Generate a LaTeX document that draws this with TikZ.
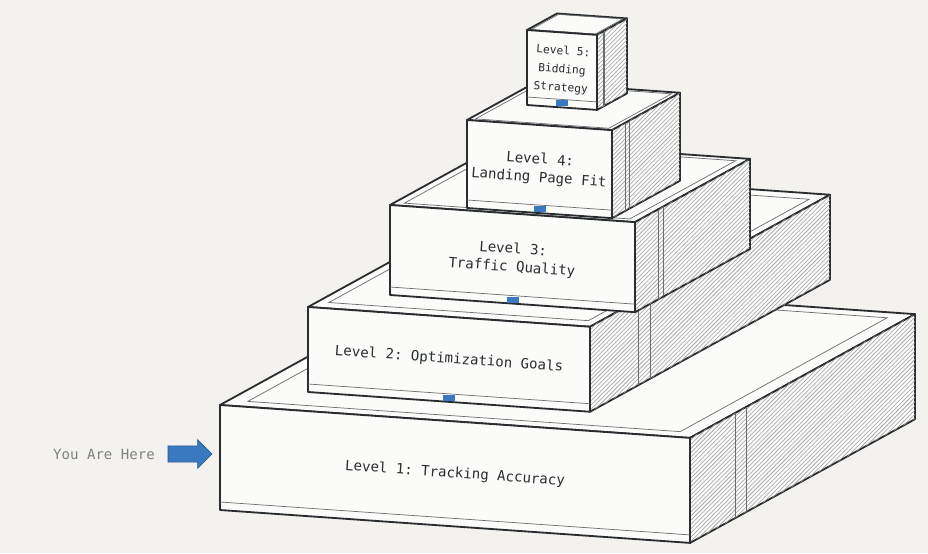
\documentclass[tikz,border=0pt]{standalone}
\usepackage{fontspec}
\setmonofont{DejaVu Sans Mono}
\usetikzlibrary{calc}
\usetikzlibrary{positioning}
\usetikzlibrary{patterns}
\usetikzlibrary{shapes.arrows}

\definecolor{paper}{HTML}{F3F2EE}
\definecolor{ink}{HTML}{2A2D30}
\definecolor{herblue}{HTML}{3A78C0}

% one level of the pyramid: name, x, y (front bottom left), width, depth, height, text
\newcommand{\levelbox}[7]{%
	\coordinate (#1-fbl) at (#2,#3);
	\coordinate (#1-fbr) at ($(#1-fbl)+(#4,0.07*#4)$);
	\coordinate (#1-bbr) at ($(#1-fbr)+(#5,-0.55*#5)$);
	\coordinate (#1-bbl) at ($(#1-fbl)+(#5,-0.55*#5)$);
	\coordinate (#1-ftl) at ($(#1-fbl)+(0,-#6)$);
	\coordinate (#1-ftr) at ($(#1-fbr)+(0,-#6)$);
	\coordinate (#1-btr) at ($(#1-bbr)+(0,-#6)$);
	\coordinate (#1-btl) at ($(#1-bbl)+(0,-#6)$);
	\coordinate (#1-mid) at ($(#1-ftl)!0.5!(#1-btr)$);
	\draw [face] (#1-ftl) -- (#1-ftr) -- (#1-btr) -- (#1-btl) -- cycle;
	\draw [groove] ($(#1-ftl)!0.08!(#1-mid)$) -- ($(#1-ftr)!0.08!(#1-mid)$)
		-- ($(#1-btr)!0.08!(#1-mid)$) -- ($(#1-btl)!0.08!(#1-mid)$) -- cycle;
	\draw [face] (#1-fbr) -- (#1-bbr) -- (#1-btr) -- (#1-ftr) -- cycle;
	\fill [hatch] (#1-fbr) -- (#1-bbr) -- (#1-btr) -- (#1-ftr) -- cycle;
	\draw [groove] ($(#1-fbr)!0.2!(#1-bbr)$) -- ($(#1-ftr)!0.2!(#1-btr)$);
	\draw [groove] ($(#1-fbr)!0.25!(#1-bbr)$) -- ($(#1-ftr)!0.25!(#1-btr)$);
	\draw [face] (#1-fbl) -- (#1-fbr) -- (#1-ftr) -- (#1-ftl) -- cycle;
	\draw [groove] ($(#1-fbl)+(0,-8)$) -- ($(#1-fbr)+(0,-8)$);
	\node [label] (#1) at ($(#1-ftl)!0.5!(#1-fbr)$) {#7};
}
% blue joint under an upper level
\newcommand{\joint}[1]{%
	\fill [herblue] ($(#1-fbl)!0.5!(#1-fbr)+(-6,-1)$) rectangle +(12,-6);
}

\begin{document}
\begin{tikzpicture}[
		x=0.025cm,y=-0.025cm,
		face/.style={draw=ink,fill=white!70!paper,line width=1.3pt,line join=round},
		hatch/.style={pattern=north east lines,pattern color=ink!45},
		groove/.style={draw=ink!70,line width=0.5pt},
		label/.style={font=\ttfamily\fontsize{10}{13}\selectfont,text=ink,align=center,rotate=-4}
	]
		\fill [paper] (0,0) rectangle (928,553);
		\useasboundingbox (0,0) rectangle (928,553);

		\levelbox{level1}{220}{510}{470}{225}{105}{Level 1: Tracking Accuracy}
		\levelbox{level2}{308}{392}{282}{240}{85}{Level 2: Optimization Goals}
		\joint{level2}
		\levelbox{level3}{390}{295}{245}{115}{90}{Level 3:\\Traffic Quality}
		\joint{level3}
		\levelbox{level4}{467}{208}{145}{68}{88}{Level 4:\\Landing Page Fit}
		\joint{level4}
		\levelbox{level5}{527}{105}{70}{30}{75}{\fontsize{8}{10}\selectfont Level 5:\\\fontsize{8}{10}\selectfont Bidding\\\fontsize{8}{10}\selectfont Strategy}
		\joint{level5}

		\node [single arrow,fill=herblue,draw=herblue!70!black,minimum height=1.1cm,minimum width=0.72cm,
			single arrow head extend=0.1cm,inner sep=0.12cm] (here_arrow) at (186,454) {};
		\node [font=\ttfamily\fontsize{10}{12}\selectfont,text=ink!60,left=0.2cm of here_arrow] (you_are_here) {You Are Here};
	\end{tikzpicture}
\end{document}
